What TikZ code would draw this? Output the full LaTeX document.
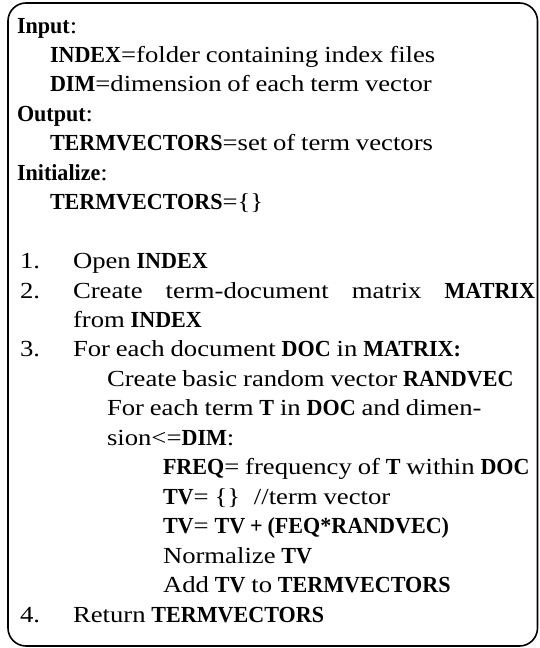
\documentclass[tikz,border=0pt]{standalone}
\usepackage{fontspec}
\setmainfont{Liberation Serif}[UprightFeatures={FakeStretch=1.16},BoldFeatures={FakeStretch=0.96},WordSpace=0.88]
\begin{document}
\begin{tikzpicture}[x=1pt,y=-1pt,
  txt/.style={anchor=base west,inner sep=0pt,outer sep=0pt,
    font=\fontsize{23}{27}\selectfont,text=black},
  frame/.style={draw=black,line width=1.6pt,rounded corners=18pt}]
  \useasboundingbox (0,0) rectangle (539,648);
  % outer frame
  \draw[frame] (8,3) rectangle (537.5,646);
  % x positions of the indentation levels
  \def\xa{17}\def\xb{50}\def\xn{20}\def\xt{73}\def\xc{107}\def\xd{163}
  % baseline of line i: 33 + 29.45 i
  \node[txt] (l0)  at (\xa, 33.0) {\textbf{Input}:};
  \node[txt] (l1)  at (\xb, 62.45) {\textbf{INDEX}=folder containing index files};
  \node[txt] (l2)  at (\xb, 91.9) {\textbf{DIM}=dimension of each term vector};
  \node[txt] (l3)  at (\xa, 121.35) {\textbf{Output}:};
  \node[txt] (l4)  at (\xb, 150.8) {\textbf{TERMVECTORS}=set of term vectors};
  \node[txt] (l5)  at (\xa, 180.25) {\textbf{Initialize}:};
  \node[txt] (l6)  at (\xb, 209.7) {\textbf{TERMVECTORS}=\{\}};
  \node[txt] (n1)  at (\xn, 268.6) {1.};
  \node[txt] (l8)  at (\xt, 268.6) {Open \textbf{INDEX}};
  \node[txt] (n2)  at (\xn, 298.05) {2.};
  \node[txt] (l9)  at (\xt, 298.05) {\makebox[462pt][s]{Create\hfill term-document\hfill matrix\hfill \textbf{MATRIX}}};
  \node[txt] (l10) at (\xt, 327.5) {from \textbf{INDEX}};
  \node[txt] (n3)  at (\xn, 356.95) {3.};
  \node[txt] (l11) at (\xt, 356.95) {For each document \textbf{DOC} in \textbf{MATRIX:}};
  \node[txt] (l12) at (\xc, 386.4) {Create basic random vector \textbf{RANDVEC}};
  \node[txt] (l13) at (\xc, 415.85) {For each term \textbf{T} in \textbf{DOC} and dimen-};
  \node[txt] (l14) at (\xc, 445.3) {sion<=\textbf{DIM}:};
  \node[txt] (l15) at (\xd, 474.75) {\textbf{FREQ}= frequency of \textbf{T} within \textbf{DOC}};
  \node[txt] (l16) at (\xd, 504.2) {\textbf{TV}= \{\}\hspace{0.6em}//term vector};
  \node[txt] (l17) at (\xd, 533.65) {\textbf{TV}= \textbf{TV + (FEQ*RANDVEC)}};
  \node[txt] (l18) at (\xd, 563.1) {Normalize \textbf{TV}};
  \node[txt] (l19) at (\xd, 592.55) {Add \textbf{TV} to \textbf{TERMVECTORS}};
  \node[txt] (n4)  at (\xn, 622.0) {4.};
  \node[txt] (l20) at (\xt, 622.0) {Return \textbf{TERMVECTORS}};
\end{tikzpicture}
\end{document}
